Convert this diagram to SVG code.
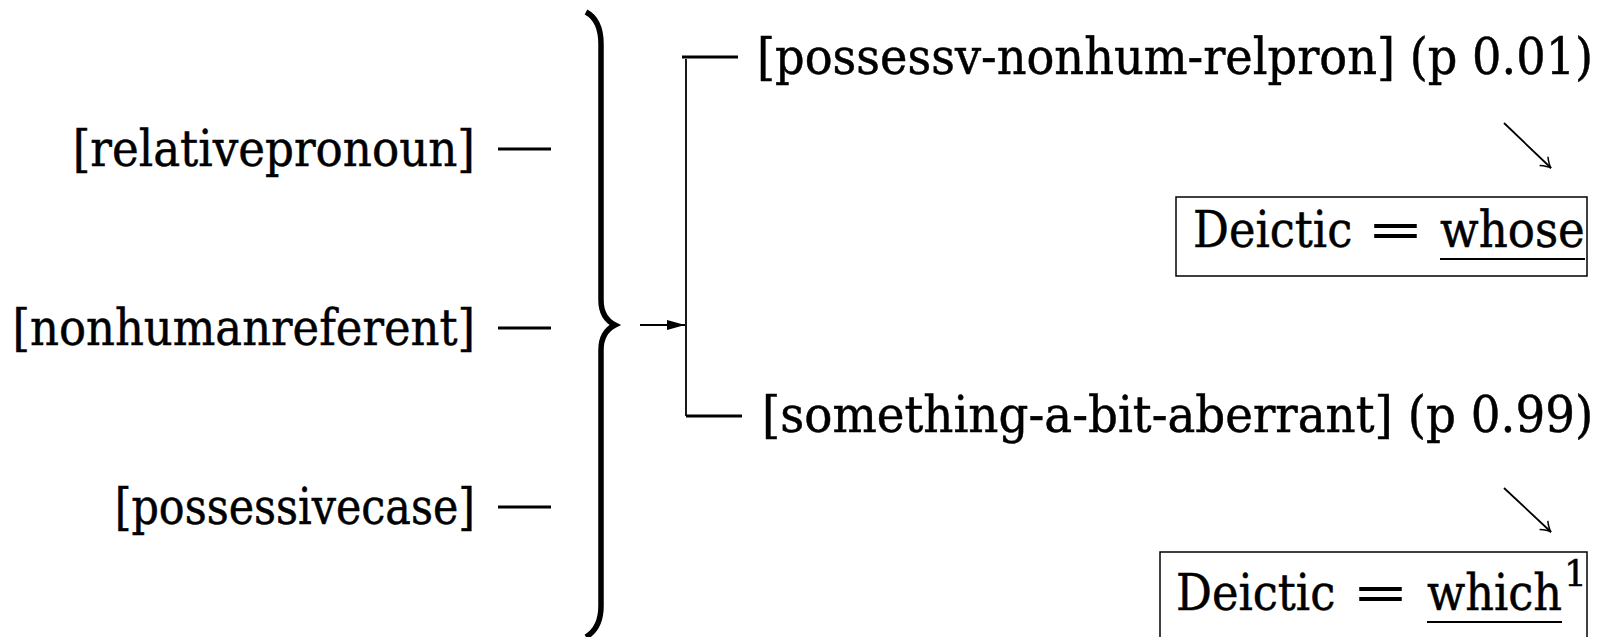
<svg xmlns="http://www.w3.org/2000/svg" width="1604" height="637" viewBox="0 0 1604 637">
<style>
  text { font-family: "DejaVu Serif", "Liberation Serif", serif; font-size: 50px; fill: #000; stroke: #000; stroke-width: 0.5; }
  .lab { text-anchor: end; }
  .eq { stroke: none; }
  .dash { stroke: #000; stroke-width: 3; fill: none; }
  .thin { stroke: #000; stroke-width: 1.8; fill: none; }
  .box { stroke: #000; stroke-width: 1.5; fill: none; }
  .sup { font-size: 36px; }
</style>
<defs>
  <marker id="open" viewBox="-12 -8 14 16" markerWidth="14" markerHeight="16" refX="0" refY="0" orient="auto" markerUnits="userSpaceOnUse">
    <path d="M -10 -6 Q -4 -1 0 0 Q -4 1 -10 6" fill="none" stroke="#000" stroke-width="1.5"/>
  </marker>
  <marker id="solid" viewBox="-20 -6 22 12" markerWidth="22" markerHeight="12" refX="0" refY="0" orient="auto" markerUnits="userSpaceOnUse">
    <path d="M -18 -5 L 0 0 L -18 5 Z" fill="#000"/>
  </marker>
</defs>

<g id="node-relativepronoun">
  <text class="lab" transform="translate(475,166) scale(0.9,1)" textLength="447" lengthAdjust="spacingAndGlyphs">[relativepronoun]</text>
  <line class="dash" x1="498" y1="149" x2="551" y2="149"/>
</g>
<g id="node-nonhumanreferent">
  <text class="lab" transform="translate(475,345) scale(0.9,1)" textLength="514" lengthAdjust="spacingAndGlyphs">[nonhumanreferent]</text>
  <line class="dash" x1="498" y1="328" x2="551" y2="328"/>
</g>
<g id="node-possessivecase">
  <text class="lab" transform="translate(475,524) scale(0.86,1)" textLength="419" lengthAdjust="spacingAndGlyphs">[possessivecase]</text>
  <line class="dash" x1="498" y1="507" x2="551" y2="507"/>
</g>

<g id="node-brace">
  <path d="M 586 12 Q 601 20 601 44 L 601 300 Q 601 318 615 325 Q 601 332 601 350 L 601 606 Q 601 628 586 637" fill="none" stroke="#000" stroke-width="5.5"/>
</g>

<g id="node-possessv">
  <text transform="translate(757,74) scale(0.926,1)" textLength="903" lengthAdjust="spacingAndGlyphs">[possessv-nonhum-relpron] (p 0.01)</text>
</g>
<g id="node-something">
  <text transform="translate(762,432) scale(0.936,1)" textLength="888" lengthAdjust="spacingAndGlyphs">[something-a-bit-aberrant] (p 0.99)</text>
</g>

<g id="node-whose">
  <rect class="box" x="1176" y="197" width="411" height="79"/>
  <text transform="translate(1193,247) scale(0.91,1)" textLength="175" lengthAdjust="spacingAndGlyphs">Deictic</text>
  <text class="eq" transform="translate(1367,247) scale(1.36,1)">=</text>
  <text transform="translate(1440,247) scale(0.905,1)" textLength="160" lengthAdjust="spacingAndGlyphs">whose</text>
  <line x1="1440" y1="259" x2="1585" y2="259" stroke="#000" stroke-width="2"/>
</g>
<g id="node-which">
  <rect class="box" x="1160" y="552" width="427" height="100"/>
  <text transform="translate(1176,610) scale(0.91,1)" textLength="175" lengthAdjust="spacingAndGlyphs">Deictic</text>
  <text class="eq" transform="translate(1352,610) scale(1.36,1)">=</text>
  <text transform="translate(1427,610) scale(0.895,1)" textLength="151" lengthAdjust="spacingAndGlyphs">which</text>
  <text class="sup" x="1564" y="586">1</text>
  <line x1="1427" y1="622" x2="1562" y2="622" stroke="#000" stroke-width="2"/>
</g>

<g id="connectors">
  <line class="thin" x1="640" y1="325" x2="685" y2="325" marker-end="url(#solid)"/>
  <line class="thin" x1="686" y1="59" x2="686" y2="416"/>
  <line class="dash" x1="682" y1="57" x2="738" y2="57"/>
  <line class="dash" x1="686" y1="416" x2="742" y2="416"/>
  <line class="thin" x1="1504" y1="123" x2="1551" y2="168" marker-end="url(#open)"/>
  <line class="thin" x1="1504" y1="488" x2="1551" y2="532" marker-end="url(#open)"/>
</g>
</svg>
